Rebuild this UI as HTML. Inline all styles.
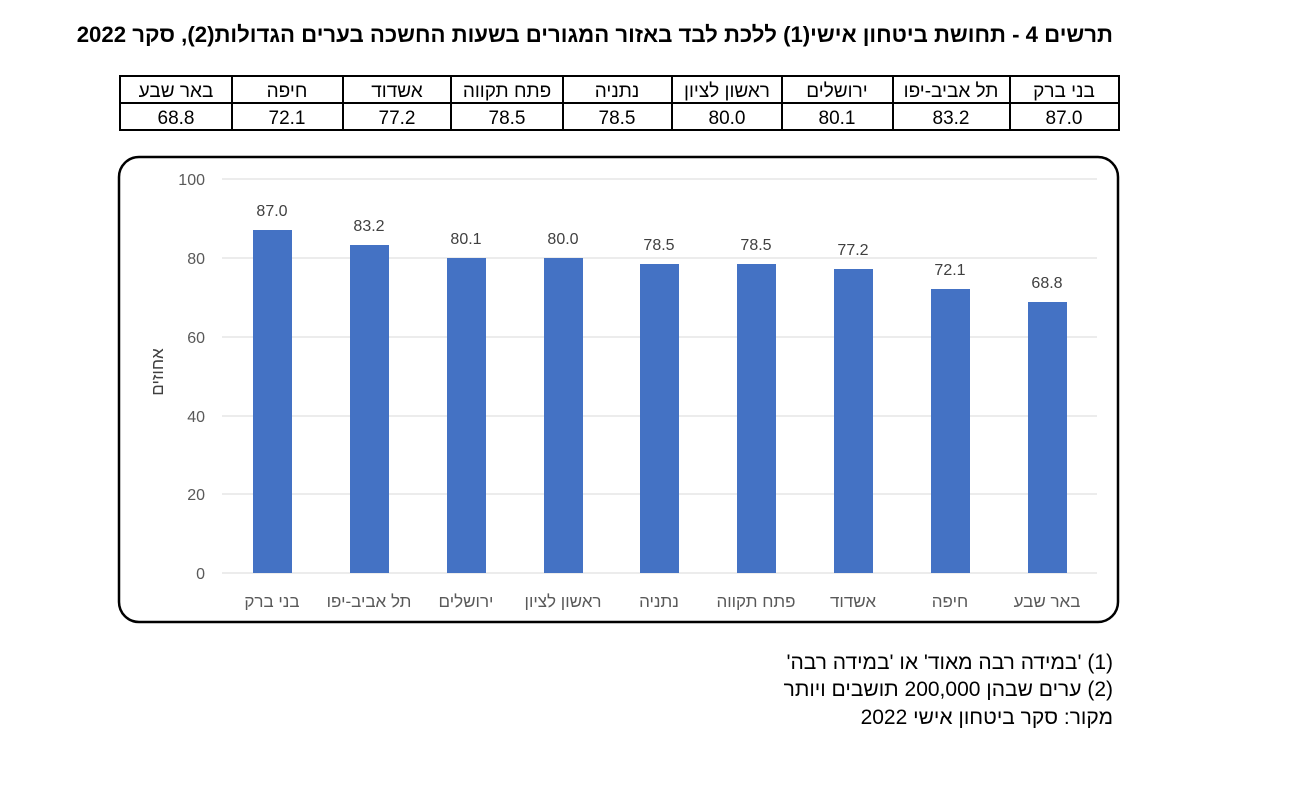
<!DOCTYPE html>
<html><head><meta charset="utf-8"><style>
body{margin:0;width:1300px;height:786px;background:#fff;position:relative;font-family:"Liberation Sans","Noto Sans CJK SC",sans-serif;overflow:hidden}
.t{position:absolute;white-space:nowrap}
</style></head><body>
<div class="t" style="right:187px;top:22px;font-size:22.2px;font-weight:bold;direction:rtl">תרשים 4 - תחושת ביטחון אישי(1) ללכת לבד באזור המגורים בשעות החשכה בערים הגדולות(2), סקר 2022</div>
<svg width="1300" height="786" style="position:absolute;left:0;top:0" font-family="Liberation Sans, Noto Sans CJK SC, sans-serif">
<g stroke="#000" stroke-width="2" fill="none">
<rect x="120" y="76" width="999" height="54"/>
<line x1="120" y1="103" x2="1119" y2="103"/>
<line x1="232" y1="76" x2="232" y2="130"/><line x1="343" y1="76" x2="343" y2="130"/>
<line x1="451" y1="76" x2="451" y2="130"/><line x1="563" y1="76" x2="563" y2="130"/>
<line x1="672" y1="76" x2="672" y2="130"/><line x1="782" y1="76" x2="782" y2="130"/>
<line x1="893" y1="76" x2="893" y2="130"/><line x1="1010" y1="76" x2="1010" y2="130"/>
</g>
<g font-size="19" text-anchor="middle" fill="#000">
<text x="176" y="97">באר שבע</text><text x="287" y="97">חיפה</text><text x="397" y="97">אשדוד</text><text x="507" y="97">פתח תקווה</text><text x="617" y="97">נתניה</text><text x="727" y="97">ראשון לציון</text><text x="837" y="97">ירושלים</text><text x="951" y="97">תל אביב-יפו</text><text x="1064" y="97">בני ברק</text>
<text x="176" y="124">68.8</text><text x="287" y="124">72.1</text><text x="397" y="124">77.2</text><text x="507" y="124">78.5</text><text x="617" y="124">78.5</text><text x="727" y="124">80.0</text><text x="837" y="124">80.1</text><text x="951" y="124">83.2</text><text x="1064" y="124">87.0</text>
</g>
<rect x="119" y="157" width="999" height="465" rx="20" fill="none" stroke="#000" stroke-width="2.5"/>
<g stroke="#d9d9d9" stroke-width="1">
<line x1="222" y1="179" x2="1097" y2="179"/><line x1="222" y1="258" x2="1097" y2="258"/><line x1="222" y1="337" x2="1097" y2="337"/><line x1="222" y1="416" x2="1097" y2="416"/><line x1="222" y1="494" x2="1097" y2="494"/><line x1="222" y1="573" x2="1097" y2="573"/>
</g>
<g font-size="16" fill="#595959" text-anchor="end">
<text x="205" y="185">100</text><text x="205" y="264">80</text><text x="205" y="343">60</text><text x="205" y="422">40</text><text x="205" y="500">20</text><text x="205" y="579">0</text>
</g>
<text x="0" y="0" font-size="17" fill="#404040" text-anchor="middle" transform="translate(163,372) rotate(-90)">אחוזים</text>
<g fill="#4472c4">
<rect x="253" y="230" width="39" height="343"/><rect x="350" y="245" width="39" height="328"/><rect x="447" y="258" width="39" height="315"/><rect x="544" y="258" width="39" height="315"/><rect x="640" y="264" width="39" height="309"/><rect x="737" y="264" width="39" height="309"/><rect x="834" y="269" width="39" height="304"/><rect x="931" y="289" width="39" height="284"/><rect x="1028" y="302" width="39" height="271"/>
</g>
<g font-size="16" fill="#404040" text-anchor="middle">
<text x="272" y="216">87.0</text><text x="369" y="231">83.2</text><text x="466" y="244">80.1</text><text x="563" y="244">80.0</text><text x="659" y="250">78.5</text><text x="756" y="250">78.5</text><text x="853" y="255">77.2</text><text x="950" y="275">72.1</text><text x="1047" y="288">68.8</text>
</g>
<g font-size="17" fill="#595959" text-anchor="middle">
<text x="272" y="607">בני ברק</text><text x="369" y="607">תל אביב-יפו</text><text x="466" y="607">ירושלים</text><text x="563" y="607">ראשון לציון</text><text x="659" y="607">נתניה</text><text x="756" y="607">פתח תקווה</text><text x="853" y="607">אשדוד</text><text x="950" y="607">חיפה</text><text x="1047" y="607">באר שבע</text>
</g>
</svg>
<div class="t" style="right:187px;top:651px;font-size:21px;direction:rtl">(1) 'במידה רבה מאוד' או 'במידה רבה'</div>
<div class="t" style="right:187px;top:678px;font-size:21px;direction:rtl">(2) ערים שבהן 200,000 תושבים ויותר</div>
<div class="t" style="right:187px;top:706px;font-size:21px;direction:rtl">מקור: סקר ביטחון אישי 2022</div>
</body></html>
